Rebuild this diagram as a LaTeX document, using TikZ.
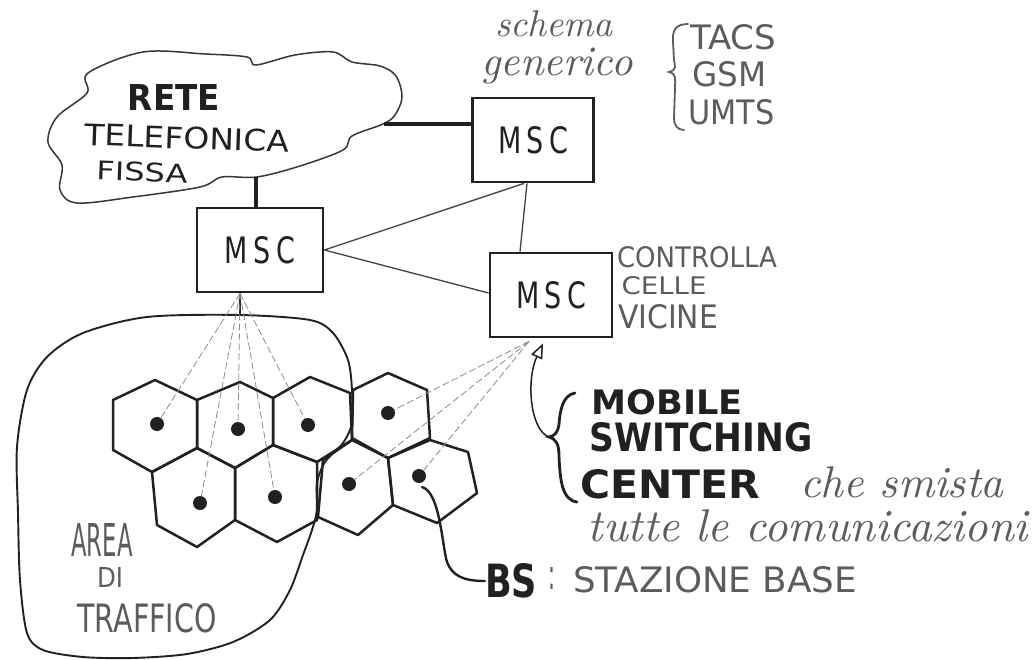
\documentclass[tikz,border=0pt]{standalone}
\usepackage{fontspec}
\usepackage{graphicx}
\usetikzlibrary{arrows.meta,calc}
\newfontfamily\printfont{DejaVu Sans}
% text squeezed into a given width and cap height
\newcommand{\hw}[3]{\resizebox{#1}{#2}{#3}}
% text scaled to a given width only
\newcommand{\cw}[2]{\resizebox{#1}{!}{#2}}
\newcommand{\msctext}{\hw{70pt}{27pt}{\printfont M\hspace{0.2em}S\hspace{0.2em}C}}
\definecolor{ink}{gray}{0.13}
\definecolor{pencil}{gray}{0.36}
\definecolor{faint}{gray}{0.55}
\begin{document}
\begin{tikzpicture}[x=1pt,y=-1pt,
  box/.style={draw=ink, line width=2.8pt, minimum width=121pt, minimum height=84pt, inner sep=0pt, text=ink},
  trunk/.style={draw=ink, line width=4.2pt},
  link/.style={draw=ink!85, line width=1.3pt},
  fan/.style={draw=faint, line width=0.8pt, dash pattern=on 7pt off 3pt},
  cloudline/.style={draw=ink!90, line width=1.5pt},
  arealine/.style={draw=ink, line width=1.9pt},
  cellline/.style={draw=ink, line width=2.5pt, line join=round},
  dot/.style={circle, fill=ink, inner sep=0pt, minimum size=14pt},
  lab/.style={inner sep=0pt, text=ink},
  note/.style={inner sep=0pt, text=pencil},
  bracepen/.style={draw=ink, line width=2.8pt, line cap=round},
  notebrace/.style={draw=pencil, line width=1.8pt, line cap=round}
]
\fill[white] (0,0) rectangle (1032,660);
\useasboundingbox (0,0) rectangle (1032,660);

% fixed telephone network
\draw[cloudline] plot[smooth cycle, tension=0.55] coordinates {
  (88,73) (143,52) (205,54) (247,57) (256,65) (295,55) (333,52) (352,62)
  (380,66) (396,76) (402,97) (395,115) (383,124) (352,136) (343,150)
  (300,166) (257,177) (222,177) (200,187) (133,197) (77,203) (60,190)
  (62,165) (48,142) (57,117) (87,93)};
\node[lab] (rete) at (174,98) {\hw{92pt}{26pt}{\printfont\bfseries RETE}};
\node[lab, rotate=-2] (telef) at (187,138) {\hw{205pt}{22pt}{\printfont TELEFONICA}};
\node[lab, rotate=-2] (fissa) at (142,172) {\hw{91pt}{19pt}{\printfont FISSA}};

% switching centres
\node[box] (mscT) at (533,140) {\msctext};
\node[box, minimum width=126pt] (mscL) at (260,250) {\msctext};
\node[box, minimum width=122pt] (mscR) at (551,295) {\msctext};

\coordinate (cloudE) at (384,124);
\coordinate (cloudS) at (256,177);
\draw[trunk] (cloudE) -- (cloudE -| mscT.west);
\draw[trunk] (cloudS) -- (cloudS |- mscL.north);

\draw[link] (mscL.east) -- ($(mscT.south)+(-9,0)$);
\draw[link] ($(mscT.south)+(-6,0)$) -- ($(mscR.north)+(-31,0)$);
\draw[link] (mscL.east) -- ($(mscR.west)+(0,-2)$);

% traffic area
\coordinate (tapL) at ($(mscL.south)+(-20,0)$);
\coordinate (areaTop) at (240,315);
\draw[draw=ink, line width=2.6pt] (tapL) -- (areaTop);
\draw[arealine] plot[smooth cycle, tension=0.5] coordinates {
  (240,315) (310,320) (333,333) (348,360) (352,390) (352,423) (343,443)
  (325,462) (317,483) (317,510) (312,530) (303,555) (290,590) (270,620)
  (233,642) (187,654) (133,658) (83,657) (43,650) (27,633) (20,580)
  (18,513) (17,447) (27,390) (47,357) (83,333) (147,317)};
\node[note] (area) at (102,540) {\hw{61pt}{33pt}{\printfont AREA}};
\node[note] (di) at (110,577) {\hw{26pt}{20pt}{\printfont DI}};
\node[note] (traffico) at (147,618) {\hw{139pt}{29pt}{\printfont TRAFFICO}};

% cells
\draw[cellline] (113,400) -- (155,380) -- (197,400) -- (197,448) -- (152,472) -- (113,450) -- cycle;
\draw[cellline] (197,400) -- (240,382) -- (273,398) -- (273,445) -- (235,468) -- (197,448) -- cycle;
\draw[cellline] (273,398) -- (310,377) -- (350,393) -- (352,440) -- (317,462) -- (273,445) -- cycle;
\draw[cellline] (152,472) -- (197,448) -- (235,468) -- (235,520) -- (197,547) -- (157,525) -- cycle;
\draw[cellline] (235,468) -- (273,445) -- (317,462) -- (317,520) -- (277,542) -- (235,520) -- cycle;
\draw[cellline] (353,390) -- (388,373) -- (427,390) -- (430,438) -- (388,458) -- (352,438) -- cycle;
\draw[cellline] (323,460) -- (352,440) -- (388,458) -- (393,505) -- (358,535) -- (318,517) -- cycle;
\draw[cellline] (388,458) -- (430,440) -- (468,452) -- (477,493) -- (437,523) -- (393,505) -- cycle;

% base stations
\node[dot] (dA) at (157,424) {};
\node[dot] (dB) at (238,429) {};
\node[dot] (dC) at (308,425) {};
\node[dot] (dD) at (200,503) {};
\node[dot] (dE) at (275,497) {};
\node[dot] (dF) at (388,413) {};
\node[dot] (dG) at (349,484) {};
\node[dot] (dH) at (419,476) {};

\foreach \d in {dA,dB,dC,dD,dE} \draw[fan] (tapL) -- (\d);
\coordinate (tapR) at ($(mscR.south)+(-22,3)$);
\foreach \d in {dF,dG,dH} \draw[fan] (tapR) -- (\d);

% notes on the switching centres
\node[note] (schema) at (554,24) {\cw{118pt}{\itshape schema}};
\node[note] (generico) at (557,66) {\cw{151pt}{\itshape generico}};
\draw[notebrace] (688,24) .. controls (676,24) and (672,30) .. (673,42)
  -- (674,60) .. controls (675,66) and (677,70) .. (669,72)
  .. controls (677,74) and (675,80) .. (675,88)
  -- (674,118) .. controls (674,126) and (678,130) .. (684,130);
\node[note, anchor=west] (tacs) at (690,37) {\hw{86pt}{25pt}{\printfont TACS}};
\node[note, anchor=west] (gsm) at (692,74) {\hw{74pt}{25pt}{\printfont GSM}};
\node[note, anchor=west] (umts) at (688,112) {\hw{86pt}{25pt}{\printfont UMTS}};

\node[note] (controlla) at (697,257) {\hw{160pt}{21pt}{\printfont CONTROLLA}};
\node[note] (celle) at (664,286) {\hw{85pt}{18pt}{\printfont CELLE}};
\node[note] (vicine) at (668,317) {\hw{100pt}{24pt}{\printfont VICINE}};

% mobile switching centre legend
\draw[bracepen] (575,393) .. controls (563,395) and (560,410) .. (559,424)
  .. controls (558,432) and (555,436) .. (549,437)
  .. controls (556,439) and (559,444) .. (559,456)
  .. controls (560,480) and (562,500) .. (577,502);
\coordinate (mscBrace) at (549,437);
\draw[draw=ink, line width=1.5pt, -{Triangle[open, length=15pt, width=12pt]}]
  (mscBrace) .. controls (530,430) and (526,380) .. ($(mscR.south)+(-8,5)$);
\node[lab] (mobile) at (667,402) {\hw{151pt}{25pt}{\printfont\bfseries MOBILE}};
\node[lab] (switching) at (701,437) {\hw{223pt}{29pt}{\printfont\bfseries SWITCHING}};
\node[lab] (center) at (670,484) {\hw{180pt}{29pt}{\printfont\bfseries CENTER}};
\node[note] (smista) at (902,482) {\cw{203pt}{\itshape che smista}};
\node[note] (tutte) at (808,526) {\cw{440pt}{\itshape tutte le comunicazioni}};

% base station legend
\node[lab] (bs) at (511,581) {\hw{52pt}{34pt}{\printfont\bfseries BS}};
\node[note] (colon) at (552,578) {\hw{7pt}{22pt}{\printfont :}};
\node[note] (stazione) at (715,580) {\hw{284pt}{26pt}{\printfont STAZIONE BASE}};
\draw[draw=ink, line width=2.4pt, line cap=round]
  ($(dH)+(3,11)$) .. controls (440,492) and (442,545) .. (447,562)
  .. controls (452,575) and (462,581) .. (bs.west);
\end{tikzpicture}
\end{document}
